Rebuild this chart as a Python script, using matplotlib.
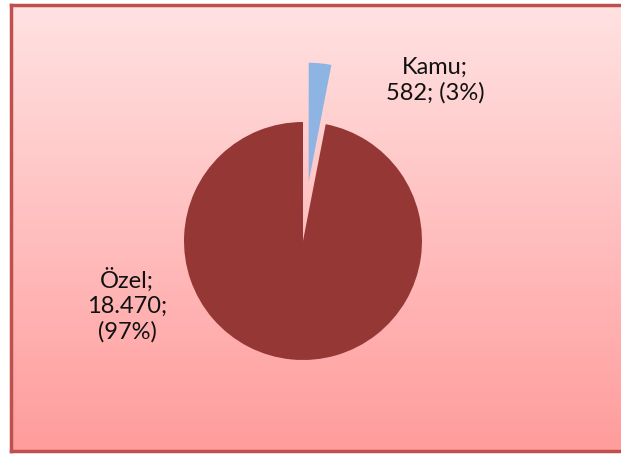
import numpy as np
import matplotlib.pyplot as plt
from matplotlib.colors import LinearSegmentedColormap

# Kamu / Ozel distribution
labels = ['Kamu', 'Özel']
values = [582, 18470]
value_text = ['582', '18.470']
pct_text = ['3%', '97%']
colors = ['#8DB4E2', '#953735']

W, H = 621, 454
fig = plt.figure(figsize=(W / 100, H / 100), dpi=100)

# chart area: pink gradient panel, its right edge runs off the image
left, top, bottom = 11, 5, 451
bg = fig.add_axes([left / W, (H - bottom) / H, (W + 30 - left) / W, (bottom - top) / H])
cmap = LinearSegmentedColormap.from_list('pink', ['#FFE2E2', '#FF9C9C'])
grad = np.linspace(0, 1, 256).reshape(-1, 1)
bg.imshow(grad, cmap=cmap, aspect='auto', extent=[0, 1, 1, 0])
bg.set_xticks([])
bg.set_yticks([])
for side in ['left', 'top', 'bottom']:
    bg.spines[side].set_color('#C0504D')
    bg.spines[side].set_linewidth(2.5)
bg.spines['right'].set_visible(False)

# overlay axes in pixel units for the labels
txt = fig.add_axes([0, 0, 1, 1])
txt.set_xlim(0, W)
txt.set_ylim(H, 0)
txt.axis('off')

# pie axes: centre at (303, 241) px, radius 119 px
cx, cy, r = 303, 241, 119
ax = fig.add_axes([0, 0, 1, 1])
ax.patch.set_alpha(0)
ax.pie(values, colors=colors, startangle=90, counterclock=False,
       explode=[0.5, 0], radius=1, wedgeprops=dict(linewidth=0))
ax.set_xlim(-cx / r, (W - cx) / r)
ax.set_ylim(-(H - cy) / r, cy / r)
ax.set_aspect('auto')
ax.axis('off')

font = dict(family=['Lato', 'DejaVu Sans'], fontsize=17, color='#111111',
            ha='center', va='center', linespacing=1.25)
txt.text(435, 80, labels[0] + ';\n' + value_text[0] + '; (' + pct_text[0] + ')', **font)
txt.text(127, 305, labels[1] + ';\n' + value_text[1] + ';\n(' + pct_text[1] + ')', **font)

fig.savefig('out.png', dpi=100)
